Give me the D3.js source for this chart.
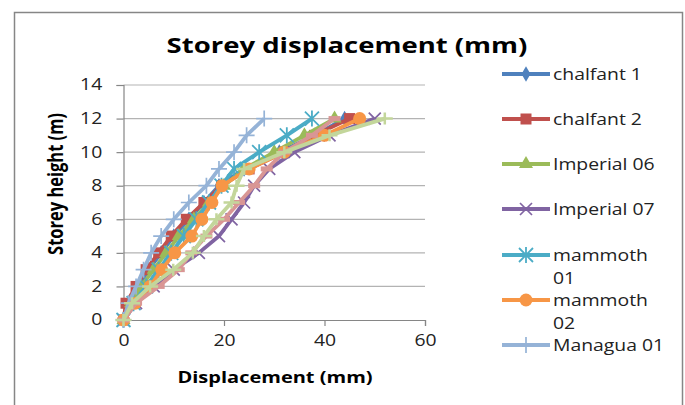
<!doctype html>
<html lang="en">
<head>
<meta charset="utf-8">
<title>Storey displacement</title>
<script src="https://cdn.jsdelivr.net/npm/d3@7"></script>
<style>
    body { margin: 0; background: #fff; }
    svg { display: block; font-family: "Open Sans", sans-serif; }
</style>
</head>
<body>
<svg width="685" height="405"></svg>
<script>
    // storey levels (m)
    var heights = [0, 1, 2, 3, 4, 5, 6, 7, 8, 9, 10, 11, 12];

    var seriesNames = ["chalfant 1", "chalfant 2", "Imperial 06", "Imperial 07",
        "mammoth 01", "mammoth 02", "Managua 01", "Series 8", "Series 9"];

    // displacement (mm) at each storey level
    var chalfant1 = [0, 1, 3, 5, 7.5, 10, 13, 16, 19, 24, 31, 38, 44];
    var chalfant2 = [0, 0.5, 2.5, 4.5, 7, 9.5, 12.5, 16, 19.5, 25, 32, 38, 45];
    var imperial06 = [0, 1.5, 3.5, 6, 8.5, 11, 14, 17, 20, 24, 30, 36, 42];
    var imperial07 = [0, 2.5, 6, 10, 15, 19, 21.5, 24, 26, 29, 34, 41, 50];
    var mammoth01 = [0, 2, 4.5, 7, 9.5, 12, 14.5, 17, 19.5, 22, 27, 32.5, 37.5];
    var mammoth02 = [0, 2.3, 5.3, 7.6, 10.2, 13.6, 15.6, 17.6, 19.6, 25, 32, 40, 47];
    var managua01 = [0, 1, 2.5, 4, 5.5, 7.5, 10, 13, 16.5, 19, 22, 24.5, 28];
    var series8 = [0, 2.5, 7, 11, 13.5, 16.5, 20, 23, 26, 28.5, 32, 37.5, 42];
    var series9 = [0, 1.7, 5.3, 9.9, 13.8, 16, 18.5, 21.5, 22.5, 24, 32, 41, 52];

    var xTicks = [0, 20, 40, 60];
    var yTicks = [0, 2, 4, 6, 8, 10, 12, 14];

    var allValues = [chalfant1, chalfant2, imperial06, imperial07, mammoth01,
        mammoth02, managua01, series8, series9];
    var colors = ["#4F81BD", "#C0504D", "#9BBB59", "#8064A2", "#4BACC6",
        "#F79646", "#95B3D7", "#D99694", "#C3D69B"];
    var markers = ["diamond", "square", "triangle", "x", "star", "circle", "plus", "dash", "longdash"];

    var series = seriesNames.map(function (name, i) {
        return {
            name: name,
            color: colors[i],
            marker: markers[i],
            points: heights.map(function (h, j) { return { h: h, d: allValues[i][j] }; })
        };
    });

    var stretch = 1.25; // the original picture is widened sideways

    var svg = d3.select("svg");

    // chart frame
    svg.append("rect")
        .attr("x", 14.5).attr("y", 12.5)
        .attr("width", 668).attr("height", 400)
        .attr("fill", "#fff").attr("stroke", "#868686").attr("stroke-width", 1.5);

    var plot = { left: 123.5, right: 425, top: 85, bottom: 320 };

    var x = d3.scaleLinear().domain([0, 60]).range([plot.left, plot.right]);
    var y = d3.scaleLinear().domain([0, 14]).range([plot.bottom, plot.top]);

    // gridlines
    svg.append("g")
        .selectAll("line")
        .data(yTicks.filter(function (t) { return t > 0; }))
        .enter()
        .append("line")
        .attr("x1", plot.left).attr("x2", plot.right)
        .attr("y1", function (d) { return y(d); })
        .attr("y2", function (d) { return y(d); })
        .attr("stroke", "#b3b3b3").attr("stroke-width", 1.2);

    // axes
    var xAxis = svg.append("g")
        .attr("transform", "translate(0," + plot.bottom + ")")
        .call(d3.axisBottom(x).tickValues(xTicks).tickSize(6).tickPadding(9));
    var yAxis = svg.append("g")
        .attr("transform", "translate(" + plot.left + ",0)")
        .call(d3.axisLeft(y).tickValues(yTicks).tickSize(7).tickPadding(10));

    [xAxis, yAxis].forEach(function (ax) {
        ax.select(".domain").attr("stroke", "#868686").attr("stroke-width", 1.2);
        ax.selectAll(".tick line").attr("stroke", "#868686").attr("stroke-width", 1.2);
        ax.selectAll(".tick text")
            .attr("font-family", "'Open Sans', sans-serif")
            .attr("font-size", 15.5)
            .attr("fill", "#222")
            .attr("transform", "scale(" + stretch + ",1)");
    });

    // marker shapes
    function drawMarker(sel, kind, color) {
        if (kind === "diamond") {
            sel.append("path").attr("d", d3.symbol(d3.symbolDiamond, 70)).attr("fill", color);
        } else if (kind === "square") {
            sel.append("rect").attr("x", -5.5).attr("y", -5.5).attr("width", 11).attr("height", 11).attr("fill", color);
        } else if (kind === "triangle") {
            sel.append("path").attr("d", d3.symbol(d3.symbolTriangle, 85)).attr("fill", color);
        } else if (kind === "x") {
            sel.append("path").attr("d", "M-6,-6L6,6M-6,6L6,-6").attr("stroke", color).attr("stroke-width", 1.7);
        } else if (kind === "star") {
            sel.append("path").attr("d", "M-7,-7L7,7M-7,7L7,-7M0,-8L0,8").attr("stroke", color).attr("stroke-width", 1.8);
        } else if (kind === "circle") {
            sel.append("circle").attr("r", 6.5).attr("fill", color);
        } else if (kind === "plus") {
            sel.append("path").attr("d", "M-8,0L8,0M0,-8L0,8").attr("stroke", color).attr("stroke-width", 1.7);
        } else if (kind === "dash") {
            sel.append("rect").attr("x", -6).attr("y", -2.5).attr("width", 12).attr("height", 5).attr("fill", color);
        } else if (kind === "longdash") {
            sel.append("path").attr("d", "M-8,0L8,0M0,-6L0,6").attr("stroke", color).attr("stroke-width", 2.5);
        }
    }

    var line = d3.line()
        .x(function (p) { return x(p.d); })
        .y(function (p) { return y(p.h); });

    var lines = svg.append("g");
    series.forEach(function (s) {
        var g = lines.append("g");
        g.append("path")
            .attr("d", line(s.points))
            .attr("fill", "none")
            .attr("stroke", s.color)
            .attr("stroke-width", 3.8)
            .attr("stroke-linejoin", "round");
        g.selectAll("g")
            .data(s.points)
            .enter()
            .append("g")
            .attr("transform", function (p) { return "translate(" + x(p.d) + "," + y(p.h) + ")"; })
            .each(function () { drawMarker(d3.select(this), s.marker, s.color); });
    });

    // title and axis titles
    svg.append("text")
        .attr("transform", "translate(347,53) scale(" + stretch + ",1)")
        .attr("text-anchor", "middle")
        .attr("font-size", 22).attr("font-weight", "bold")
        .text("Storey displacement (mm)");

    svg.append("text")
        .attr("transform", "translate(275,383) scale(" + stretch + ",1)")
        .attr("text-anchor", "middle")
        .attr("font-size", 16).attr("font-weight", "bold")
        .text("Displacement (mm)");

    svg.append("text")
        .attr("transform", "translate(63,184) scale(" + stretch + ",1) rotate(-90)")
        .attr("text-anchor", "middle")
        .attr("font-size", 16.5).attr("font-weight", "bold")
        .text("Storey height (m)");

    // legend (only the first seven entries fit in the frame)
    var legendRows = [
        { i: 0, lines: ["chalfant 1"], y: 74 },
        { i: 1, lines: ["chalfant 2"], y: 119 },
        { i: 2, lines: ["Imperial 06"], y: 164 },
        { i: 3, lines: ["Imperial 07"], y: 209 },
        { i: 4, lines: ["mammoth", "01"], y: 255 },
        { i: 5, lines: ["mammoth", "02"], y: 300 },
        { i: 6, lines: ["Managua 01"], y: 345 }
    ];

    var legend = svg.append("g")
        .selectAll("g")
        .data(legendRows)
        .enter()
        .append("g")
        .attr("transform", function (d) { return "translate(0," + d.y + ")"; });

    legend.append("line")
        .attr("x1", 502).attr("x2", 550)
        .attr("stroke", function (d) { return series[d.i].color; })
        .attr("stroke-width", 3.8);

    legend.append("g")
        .attr("transform", "translate(526,0)")
        .each(function (d) { drawMarker(d3.select(this), series[d.i].marker, series[d.i].color); });

    legend.append("text")
        .attr("transform", "translate(553,0) scale(" + stretch + ",1)")
        .attr("font-size", 15.5)
        .attr("fill", "#222")
        .selectAll("tspan")
        .data(function (d) { return d.lines; })
        .enter()
        .append("tspan")
        .attr("x", 0)
        .attr("y", function (t, k) { return 5.5 + k * 23.5; })
        .text(function (t) { return t; });
</script>
</body>
</html>
